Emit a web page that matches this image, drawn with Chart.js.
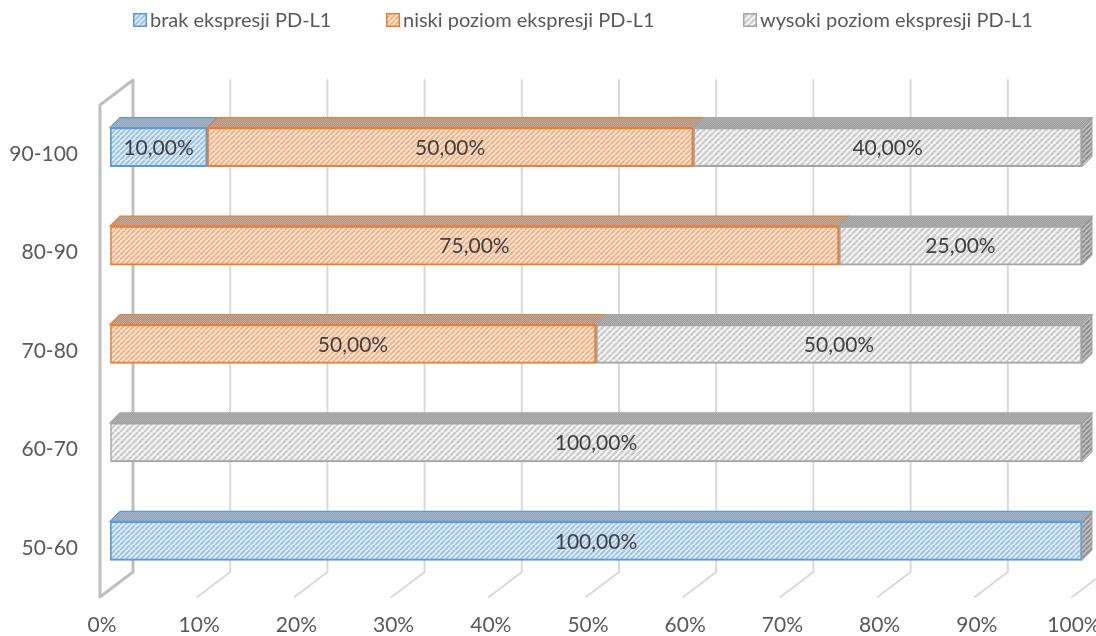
<!DOCTYPE html>
<html>
<head>
<meta charset="utf-8">
<script src="https://cdn.jsdelivr.net/npm/chart.js@4.4.1/dist/chart.umd.min.js"></script>
<style>
  html, body { margin: 0; padding: 0; background: #ffffff; }
  #wrap { width: 1096px; height: 636px; }
</style>
</head>
<body>
<div id="wrap"><canvas id="c" width="1096" height="636"></canvas></div>
<script>
// Age groups (bottom to top) and share of PD-L1 expression levels in each group, in %
const categories = ['50-60', '60-70', '70-80', '80-90', '90-100'];
const brak   = [100, 0, 0, 0, 10];
const niski  = [0, 0, 50, 75, 50];
const wysoki = [0, 100, 50, 25, 40];
const seriesNames = ['brak ekspresji PD-L1', 'niski poziom ekspresji PD-L1', 'wysoki poziom ekspresji PD-L1'];
const xTickStep = 10;

const FONT = 'Lato, "Open Sans", sans-serif';
const canvas = document.getElementById('c');
const ctx = canvas.getContext('2d');

// Diagonal hatch fill ("/" stripes) as a repeating canvas pattern
function hatch(bg, fg, period, width) {
  const t = document.createElement('canvas');
  t.width = t.height = period;
  const g = t.getContext('2d');
  g.fillStyle = bg;
  g.fillRect(0, 0, period, period);
  g.strokeStyle = fg;
  g.lineWidth = width;
  g.beginPath();
  for (const o of [-period, 0, period]) {
    g.moveTo(o, period);
    g.lineTo(o + period, 0);
  }
  g.stroke();
  return ctx.createPattern(t, 'repeat');
}

// Fine dotted texture for the top faces of the 3D bars
function dots(a, b) {
  const t = document.createElement('canvas');
  t.width = t.height = 2;
  const g = t.getContext('2d');
  g.fillStyle = a; g.fillRect(0, 0, 2, 2);
  g.fillStyle = b; g.fillRect(0, 0, 1, 1); g.fillRect(1, 1, 1, 1);
  return ctx.createPattern(t, 'repeat');
}

const series = [
  { name: seriesNames[0], data: brak,   border: '#5B9BD5', fill: hatch('#E6F0FA', '#9DC3E6', 5, 2),   top: dots('#8FA3BA', '#A9B6C6') },
  { name: seriesNames[1], data: niski,  border: '#ED7D31', fill: hatch('#FDEBDF', '#F4B183', 5, 2),   top: dots('#B0917C', '#C2AB9B') },
  { name: seriesNames[2], data: wysoki, border: '#A5A5A5', fill: hatch('#F6F6F6', '#CDCDCD', 6, 2.4), top: dots('#9C9C9C', '#B3B3B3') }
];
const sideFill = hatch('#C4C4C4', '#8E8E8E', 5, 2);

// depth of a bar (front face to back face), in px
const BAR_D = { x: 10, y: -10 };
// back wall and front floor edge offsets relative to the bar front plane
const BACK = { x: 23, y: -18 };
const FRONT = { x: -10, y: 7 };

const wallPlugin = {
  id: 'walls3d',
  beforeDatasetsDraw(chart) {
    const { ctx, chartArea: a, scales: { x } } = chart;
    ctx.save();
    ctx.lineCap = 'round';
    // back wall gridlines continuing over the floor
    ctx.strokeStyle = '#D9D9D9';
    ctx.lineWidth = 2;
    x.ticks.forEach(t => {
      if (t.value === 0) return;
      const px = x.getPixelForValue(t.value);
      ctx.beginPath();
      ctx.moveTo(px + BACK.x, a.top + BACK.y);
      ctx.lineTo(px + BACK.x, a.bottom + BACK.y);
      ctx.lineTo(px + FRONT.x, a.bottom + FRONT.y);
      ctx.stroke();
    });
    // left side wall
    const p0 = x.getPixelForValue(0);
    ctx.strokeStyle = '#BFBFBF';
    ctx.lineWidth = 3;
    ctx.lineJoin = 'round';
    ctx.beginPath();
    ctx.moveTo(p0 + BACK.x, a.bottom + BACK.y);
    ctx.lineTo(p0 + BACK.x, a.top + BACK.y);
    ctx.lineTo(p0 + FRONT.x, a.top + FRONT.y);
    ctx.lineTo(p0 + FRONT.x, a.bottom + FRONT.y);
    ctx.lineTo(p0 + BACK.x, a.bottom + BACK.y);
    ctx.stroke();
    ctx.restore();
  },
  afterDatasetsDraw(chart) {
    const { ctx } = chart;
    const n = chart.data.labels.length;
    ctx.save();
    for (let i = 0; i < n; i++) {
      let last = null;
      chart.data.datasets.forEach((ds, d) => {
        const v = ds.data[i];
        if (!v) return;
        const el = chart.getDatasetMeta(d).data[i];
        const x0 = Math.min(el.base, el.x), x1 = Math.max(el.base, el.x);
        const yT = el.y - el.height / 2;
        ctx.beginPath();
        ctx.moveTo(x0, yT);
        ctx.lineTo(x0 + BAR_D.x, yT + BAR_D.y);
        ctx.lineTo(x1 + BAR_D.x, yT + BAR_D.y);
        ctx.lineTo(x1, yT);
        ctx.closePath();
        ctx.fillStyle = series[d].top;
        ctx.fill();
        ctx.strokeStyle = series[d].border;
        ctx.lineWidth = 1.2;
        ctx.stroke();
        last = { x1, yT, yB: el.y + el.height / 2 };
      });
      if (last) {
        ctx.beginPath();
        ctx.moveTo(last.x1, last.yT);
        ctx.lineTo(last.x1 + BAR_D.x, last.yT + BAR_D.y);
        ctx.lineTo(last.x1 + BAR_D.x, last.yB + BAR_D.y);
        ctx.lineTo(last.x1, last.yB);
        ctx.closePath();
        ctx.fillStyle = sideFill;
        ctx.fill();
        ctx.strokeStyle = '#A5A5A5';
        ctx.lineWidth = 1;
        ctx.stroke();
      }
    }
    // value labels on the front faces
    ctx.font = '21px ' + FONT;
    ctx.fillStyle = '#404040';
    ctx.textAlign = 'center';
    ctx.textBaseline = 'middle';
    chart.data.datasets.forEach((ds, d) => {
      chart.getDatasetMeta(d).data.forEach((el, i) => {
        const v = ds.data[i];
        if (!v) return;
        const txt = v.toFixed(2).replace('.', ',') + '%';
        ctx.fillText(txt, (el.x + el.base) / 2, el.y + 1);
      });
    });
    ctx.restore();
  }
};

// Legend row across the top
const legendPlugin = {
  id: 'legendRow',
  afterDraw(chart) {
    const { ctx } = chart;
    const starts = [133, 386, 743];
    ctx.save();
    ctx.font = '20px ' + FONT;
    ctx.textBaseline = 'middle';
    ctx.textAlign = 'left';
    chart.data.datasets.forEach((ds, d) => {
      const x = starts[d], y = 20;
      ctx.fillStyle = series[d].fill;
      ctx.fillRect(x, y - 7, 14, 14);
      ctx.strokeStyle = series[d].border;
      ctx.lineWidth = 1.5;
      ctx.strokeRect(x + 0.75, y - 6.25, 12.5, 12.5);
      ctx.fillStyle = '#595959';
      ctx.fillText(ds.label, x + 17, y + 1);
    });
    ctx.restore();
  }
};

new Chart(ctx, {
  type: 'bar',
  data: {
    labels: categories,
    datasets: series.map(s => ({
      label: s.name,
      data: s.data,
      backgroundColor: s.fill,
      borderColor: s.border,
      borderWidth: c => (c.raw ? 2 : 0),
      borderSkipped: false,
      barThickness: 39
    }))
  },
  options: {
    indexAxis: 'y',
    responsive: false,
    animation: false,
    devicePixelRatio: 1,
    layout: { padding: { top: 98, right: 14, left: 0, bottom: 0 } },
    plugins: { legend: { display: false }, tooltip: { enabled: false } },
    scales: {
      x: {
        stacked: true,
        min: 0,
        max: 100,
        grid: { display: false, drawTicks: false },
        border: { display: false },
        ticks: {
          stepSize: xTickStep,
          callback: v => v + '%',
          font: { family: FONT, size: 21 },
          color: '#595959',
          padding: 23,
          labelOffset: -8,
          maxRotation: 0,
          autoSkip: false
        },
        afterFit: s => { s.height = 46; s.paddingLeft = 0; s.paddingRight = 0; }
      },
      y: {
        stacked: true,
        reverse: true,
        grid: { display: false, drawTicks: false },
        border: { display: false },
        ticks: {
          font: { family: FONT, size: 21 },
          color: '#595959',
          padding: 32,
          labelOffset: 7
        },
        afterFit: s => { s.width = 110; s.paddingTop = 0; s.paddingBottom = 0; }
      }
    }
  },
  plugins: [wallPlugin, legendPlugin]
});
</script>
</body>
</html>
